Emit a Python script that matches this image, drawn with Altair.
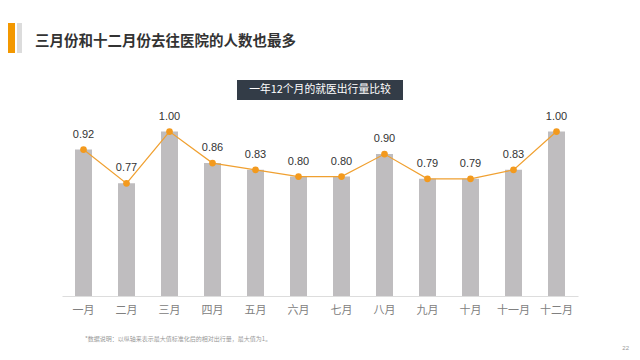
import altair as alt
import pandas as pd

months = ["一月", "二月", "三月", "四月", "五月", "六月", "七月", "八月", "九月", "十月", "十一月", "十二月"]
values = [0.92, 0.77, 1.00, 0.86, 0.83, 0.80, 0.80, 0.90, 0.79, 0.79, 0.83, 1.00]
labels = ["0.92", "0.77", "1.00", "0.86", "0.83", "0.80", "0.80", "0.90", "0.79", "0.79", "0.83", "1.00"]

title_text = "三月份和十二月份去往医院的人数也最多"
subtitle_text = "一年12个月的就医出行量比较"
note_text = "*数据说明：以纵轴来表示最大值标准化后的相对出行量，最大值为1。"
page_num = "22"

df = pd.DataFrame({"month": months, "value": values, "label": labels})

CJK = "Noto Sans CJK SC"
NUM = "Liberation Sans"

x = alt.X("month:N", sort=months, title=None,
          axis=alt.Axis(labelAngle=0, ticks=False, labelPadding=8, labelColor="#808080",
                        labelFontSize=11, labelFont=CJK, domainColor="#dddddd",
                        domainWidth=1, grid=False))
y = alt.Y("value:Q", scale=alt.Scale(domain=[0.27, 1.14], nice=False, zero=False),
          axis=None)

base = alt.Chart(df)

bars = base.mark_bar(size=17, color="#bfbdbf").encode(x=x, y=y, y2=alt.datum(0.27))
line = base.mark_line(color="#f0a030", strokeWidth=1.2).encode(x=x, y=y)
pts = base.mark_circle(size=45, color="#f39a1e", opacity=1).encode(x=x, y=y)
txt = base.mark_text(dy=-15, fontSize=11, font=NUM, color="#333333").encode(x=x, y=y, text="label:N")

one = pd.DataFrame({"a": [0]})
deco = alt.Chart(one)
orange = deco.mark_rect(color="#f39800").encode(
    x=alt.value(-54), x2=alt.value(-47), y=alt.value(-77), y2=alt.value(-47))
grayb = deco.mark_rect(color="#dcdcdc").encode(
    x=alt.value(-45), x2=alt.value(-40), y=alt.value(-77), y2=alt.value(-47))
title = deco.mark_text(align="left", baseline="middle", fontSize=14.5, fontWeight="bold",
                       font=CJK, color="#333333").encode(
    x=alt.value(-27), y=alt.value(-58), text=alt.value(title_text))
box = deco.mark_rect(color="#333c47").encode(
    x=alt.value(175), x2=alt.value(341), y=alt.value(-20), y2=alt.value(0))
subtitle = deco.mark_text(align="center", baseline="middle", fontSize=10.8, font=CJK,
                          color="#ffffff").encode(
    x=alt.value(258), y=alt.value(-10), text=alt.value(subtitle_text))
note = deco.mark_text(align="left", baseline="middle", fontSize=6, font=CJK,
                      color="#999999").encode(
    x=alt.value(23), y=alt.value(239), text=alt.value(note_text))
pn = deco.mark_text(align="right", baseline="middle", fontSize=6, font=NUM,
                    color="#999999").encode(
    x=alt.value(567), y=alt.value(248), text=alt.value(page_num))

chart = alt.layer(bars, line, pts, txt, orange, grayb, title, box, subtitle, note, pn).properties(
    width=516, height=196,
    background="#ffffff",
    autosize=alt.AutoSizeParams(type="none"),
    padding={"left": 54, "right": 54, "top": 92, "bottom": 56},
).configure_view(strokeWidth=0, stroke="transparent")

chart.save("out.html", embed_options={"renderer": "svg", "actions": False})
